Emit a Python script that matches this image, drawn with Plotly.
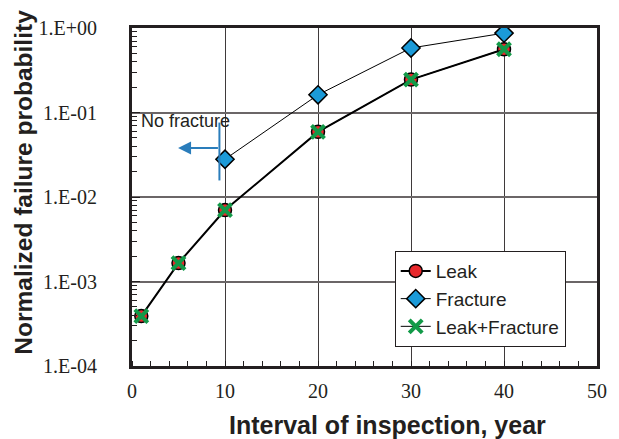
import math
import plotly.graph_objects as go

# Inspection interval (years) and normalized failure probabilities
interval = [1, 5, 10, 20, 30, 40]
leak = [3.9e-4, 1.65e-3, 7.0e-3, 5.9e-2, 0.245, 0.56]
fracture_interval = [10, 20, 30, 40]
fracture = [2.8e-2, 0.162, 0.58, 0.87]
leak_fracture = [3.9e-4, 1.65e-3, 7.0e-3, 5.9e-2, 0.245, 0.56]

y_tickvals = [1e-4, 1e-3, 1e-2, 1e-1, 1e0]
y_ticktext = ["1.E-04", "1.E-03", "1.E-02", "1.E-01", "1.E+00"]
x_tickvals = [0, 10, 20, 30, 40, 50]
minor_y = [m * 10.0 ** e for e in range(-4, 0) for m in range(2, 10)]

serif = "Liberation Serif, Times New Roman, serif"
sans = "Liberation Sans, Arial, sans-serif"
ink = "#231f20"
blue = "#2a7dbb"

fig = go.Figure()
fig.add_trace(go.Scatter(
    x=interval, y=leak, name="Leak", mode="lines+markers",
    line=dict(color="black", width=2),
    marker=dict(symbol="circle", size=13, color="#e8282c",
                line=dict(color="black", width=1.5)),
))
fig.add_trace(go.Scatter(
    x=fracture_interval, y=fracture, name="Fracture", mode="lines+markers",
    line=dict(color="black", width=1),
    marker=dict(symbol="diamond", size=14, color="#1b9ad8",
                line=dict(color="black", width=1.5)),
))
fig.add_trace(go.Scatter(
    x=interval, y=leak_fracture, name="Leak+Fracture", mode="lines+markers",
    line=dict(color="black", width=1),
    marker=dict(symbol="x-thin", size=13, color="#129a48",
                line=dict(color="#129a48", width=4)),
))
# invisible trace carrying the minor log ticks axis
fig.add_trace(go.Scatter(x=[None], y=[None], yaxis="y2", showlegend=False,
                         hoverinfo="skip"))

# "No fracture" marker: vertical bar with an arrow pointing left
fig.add_shape(type="line", x0=9.4, x1=9.4, y0=0.0157, y1=0.076,
              line=dict(color=blue, width=2))
arrow_y = math.log10(0.038)
fig.add_annotation(x=4.95, y=arrow_y, ax=9.4, ay=arrow_y, xref="x", yref="y",
                   axref="x", ayref="y", text="", showarrow=True,
                   arrowhead=2, arrowsize=1.3, arrowwidth=2,
                   arrowcolor=blue)
fig.add_annotation(x=5.8, y=-1.10, text="No fracture",
                   showarrow=False,
                   font=dict(family=sans, size=18, color=ink))

# axis titles
fig.add_annotation(xref="paper", yref="paper", x=0.55, y=-0.176,
                   text="<b>Interval of inspection, year</b>", showarrow=False,
                   xanchor="center", yanchor="middle",
                   font=dict(family=sans, size=25, color=ink))
fig.add_annotation(xref="paper", yref="paper", x=-0.234, y=0.543,
                   text="<b>Normalized failure probability</b>", showarrow=False,
                   textangle=-90, xanchor="center", yanchor="middle",
                   font=dict(family=sans, size=24.5, color=ink))

fig.update_layout(
    width=619, height=439,
    margin=dict(l=132, r=20, t=28, b=73),
    paper_bgcolor="white", plot_bgcolor="white",
    showlegend=True,
    legend=dict(x=0.565, y=0.34, xanchor="left", yanchor="top",
                bgcolor="white", bordercolor=ink, borderwidth=1,
                font=dict(family=sans, size=19, color=ink),
                itemwidth=30, tracegroupgap=0),
    xaxis=dict(range=[0, 50], tickvals=x_tickvals, showgrid=True,
               gridcolor="#3f3a3b", gridwidth=1, zeroline=False,
               showline=True, linecolor=ink, linewidth=3, mirror=True,
               ticks="", ticklabelstandoff=5,
               tickfont=dict(family=serif, size=20, color=ink)),
    yaxis=dict(type="log", range=[-4, 0], tickvals=y_tickvals,
               ticktext=y_ticktext, showgrid=True, gridcolor="#6b6667",
               gridwidth=1.5, zeroline=False, showline=True,
               linecolor=ink, linewidth=3, mirror=True,
               ticks="inside", ticklen=8, tickcolor=ink,
               ticklabelstandoff=28,
               tickfont=dict(family=serif, size=20, color=ink)),
    yaxis2=dict(type="log", range=[-4, 0], overlaying="y", side="left",
                tickvals=minor_y, showticklabels=False, showgrid=False,
                ticks="inside", ticklen=5, tickcolor=ink,
                zeroline=False, showline=False),
)
fig.update_xaxes(minor=dict(dtick=2, ticks="inside", ticklen=5,
                            tickcolor=ink, showgrid=False))

fig.write_html("out.html")
